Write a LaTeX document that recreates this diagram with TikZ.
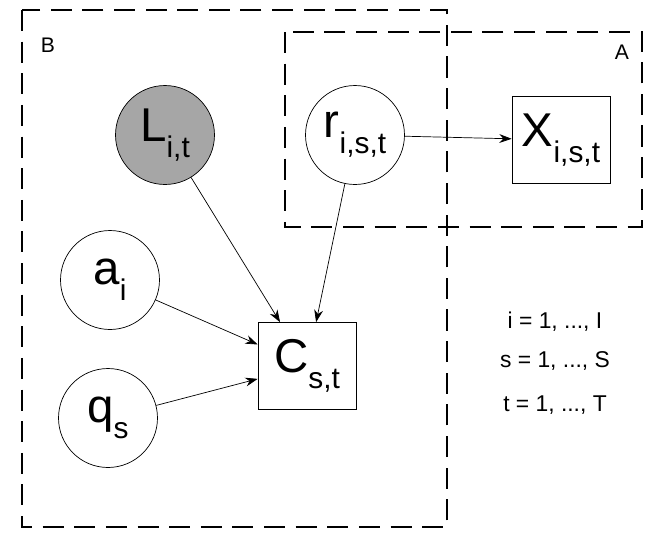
\documentclass[tikz,border=0pt]{standalone}
\usepackage{fontspec}
\setmainfont{Liberation Sans}
\usetikzlibrary{arrows.meta}
\tikzset{
  var/.style={circle,draw,minimum size=1.98cm,inner sep=0pt,font=\fontsize{27}{30}\selectfont},
  obs/.style={draw,minimum width=1.96cm,minimum height=1.74cm,inner sep=0pt,font=\fontsize{27}{30}\selectfont},
  plate/.style={draw,dashed,dash pattern=on 12pt off 6pt,thick},
  edge/.style={-{Stealth[length=7pt,width=5pt]}}
}
\newcommand{\sub}[1]{\raisebox{-9pt}{\fontsize{17}{18}\selectfont #1}}
\begin{document}
\begin{tikzpicture}[x=0.02cm,y=-0.02cm]
    \useasboundingbox (0,0) rectangle (664,539);

    % Plates
    \draw[plate] (22,10) rectangle (447,527);
    \draw[plate] (285,32) rectangle (642,227);
    \node at (48,45) {\fontsize{12}{14}\selectfont B};
    \node at (622,52) {\fontsize{12}{14}\selectfont A};

    % Nodes
    \node[var,fill=gray!70] (L) at (165,135) {L\sub{i,t}};
    \node[var] (r) at (355,135) {r\sub{i,s,t}};
    \node[obs] (X) at (561,140) {X\sub{i,s,t}};
    \node[var] (a) at (110,280) {a\sub{i}};
    \node[var] (q) at (108,418) {q\sub{s}};
    \node[obs] (C) at (307,366) {C\sub{s,t}};

    % Edges
    \draw[edge] (r) -- (X);
    \draw[edge] (L) -- (C);
    \draw[edge] (r) -- (C);
    \draw[edge] (a) -- (C);
    \draw[edge] (q) -- (C);

    % Index ranges
    \node at (555,322) {\fontsize{13}{15}\selectfont i = 1, ..., I};
    \node at (555,361) {\fontsize{13}{15}\selectfont s = 1, ..., S};
    \node at (555,405) {\fontsize{13}{15}\selectfont t = 1, ..., T};
\end{tikzpicture}
\end{document}
